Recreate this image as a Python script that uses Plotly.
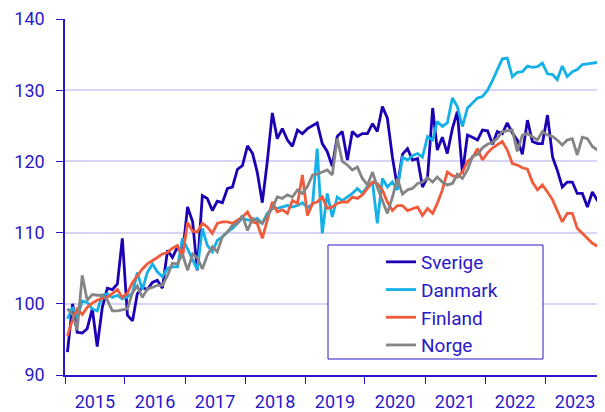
import pandas as pd
import plotly.graph_objects as go

# monthly index values, Jan 2015 - Dec 2023
months = pd.date_range("2015-01-01", periods=108, freq="MS") + pd.Timedelta(days=15)

sverige = [
    93.2, 100.0, 96.0, 95.9, 96.5, 99.3, 94.0, 99.5, 102.2, 102.0, 102.8, 109.2,
    98.4, 97.6, 101.4, 102.3, 102.0, 103.0, 103.3, 102.2, 107.5, 106.5, 108.0, 106.8,
    113.6, 111.5, 104.7, 115.2, 114.8, 113.1, 114.4, 114.2, 116.2, 116.4, 118.9, 119.4,
    122.2, 121.1, 118.5, 114.2, 119.9, 126.8, 123.2, 124.6, 123.0, 122.1, 124.4, 123.9,
    124.6, 125.0, 125.4, 122.5, 121.4, 119.3, 123.5, 124.2, 120.2, 124.2, 123.5, 123.9,
    123.9, 125.3, 124.2, 127.7, 126.1, 120.6, 116.4, 121.0, 121.8, 120.2, 120.4, 116.4,
    117.8, 127.5, 121.6, 123.4, 121.1, 124.6, 127.0, 118.3, 123.7, 123.4, 123.0, 124.4,
    124.3, 122.4, 124.2, 123.9, 125.4, 124.0, 123.0, 121.0, 125.8, 122.8, 122.5, 122.5,
    126.5, 120.6, 118.8, 116.4, 117.1, 117.1, 115.5, 115.5, 113.6, 115.7, 114.5, 114.8,
]
danmark = [
    97.9, 99.5, 98.0, 100.4, 100.2, 99.3, 99.0, 101.2, 101.4, 100.9, 101.2, 100.7,
    101.0, 101.5, 104.4, 102.0, 104.4, 105.6, 104.5, 103.8, 105.0, 105.2, 105.2, 109.2,
    107.7, 106.1, 104.8, 110.6, 108.2, 107.3, 108.9, 109.4, 110.1, 110.6, 111.3, 112.0,
    111.8, 111.7, 112.0, 111.3, 112.7, 113.4, 113.4, 113.6, 113.8, 113.6, 113.8, 114.2,
    113.5, 114.0, 121.8, 109.9, 115.5, 112.2, 115.0, 114.5, 115.0, 115.5, 116.2, 115.5,
    116.5, 117.0, 111.3, 117.6, 116.4, 117.1, 116.0, 120.6, 120.2, 120.8, 121.1, 120.6,
    123.5, 123.0, 125.6, 124.9, 125.4, 128.9, 127.7, 124.9, 127.5, 128.2, 128.9, 129.1,
    130.0, 131.4, 132.9, 134.4, 134.5, 131.9, 132.5, 132.6, 133.4, 133.2, 133.3, 133.8,
    132.3, 132.2, 131.5, 133.4, 131.9, 132.6, 132.9, 133.6, 133.7, 133.8, 133.9, 134.0,
]
finland = [
    95.5, 97.8, 99.3, 98.5, 99.5, 100.1, 100.5, 100.8, 100.9, 101.4, 102.0, 100.9,
    101.5, 103.0, 104.0, 104.9, 105.6, 106.0, 106.5, 107.0, 107.2, 107.8, 108.2, 106.6,
    111.4, 110.2, 110.1, 111.3, 110.8, 109.9, 111.3, 111.5, 111.5, 111.3, 111.7, 112.2,
    112.9, 111.5, 111.3, 109.2, 111.7, 114.3, 112.9, 113.2, 112.7, 114.5, 114.1, 118.1,
    112.4, 114.1, 114.3, 115.0, 113.4, 113.6, 114.1, 114.3, 114.3, 115.0, 114.8, 115.3,
    116.2, 117.1, 116.9, 116.0, 114.3, 113.1, 113.8, 113.8, 113.1, 113.4, 113.6, 112.4,
    113.4, 112.7, 114.1, 116.0, 118.5, 118.0, 117.8, 118.5, 120.0, 120.5, 121.8, 120.2,
    121.2, 121.9, 122.3, 122.8, 121.6, 119.7, 119.5, 119.1, 118.9, 117.1, 116.0, 116.7,
    115.7, 114.6, 113.1, 111.5, 112.7, 112.7, 110.6, 109.9, 109.2, 108.5, 108.1, 107.8,
]
norge = [
    99.3, 98.5, 96.3, 104.0, 100.5, 101.3, 101.2, 101.2, 100.5, 99.0, 99.0, 99.1,
    99.3, 101.6, 102.5, 100.9, 102.1, 102.3, 102.6, 102.6, 104.0, 105.7, 105.6, 107.0,
    104.7, 107.0, 106.5, 104.9, 106.8, 108.0, 107.3, 109.4, 110.1, 111.0, 111.3, 112.4,
    110.3, 112.0, 111.7, 111.3, 112.4, 113.4, 115.0, 114.8, 115.3, 115.0, 116.0, 115.5,
    116.5, 118.1, 118.2, 118.5, 118.8, 118.1, 123.2, 120.0, 119.5, 118.8, 119.2, 117.6,
    116.7, 118.5, 116.4, 114.5, 112.7, 115.0, 117.6, 115.4, 116.0, 116.2, 116.9, 117.1,
    117.7, 117.1, 117.8, 117.1, 116.7, 116.9, 118.2, 117.6, 118.8, 120.7, 121.0, 121.9,
    122.4, 122.7, 123.2, 124.2, 124.3, 124.4, 121.4, 123.7, 123.9, 123.5, 123.0, 124.2,
    123.7, 123.5, 123.0, 122.3, 123.0, 123.2, 120.9, 123.4, 123.2, 122.1, 121.6, 120.4,
]

series = [
    ("Sverige", sverige, "#1c00b4"),
    ("Danmark", danmark, "#14b0e8"),
    ("Finland", finland, "#f15a3a"),
    ("Norge", norge, "#858585"),
]

axis_col = "#2a18c8"
grid_col = "#d9d5f5"

# page body has an 8px margin, so the figure is sized to fit from (8, 8)
W, H = 597, 404
L, T, B = 57, 11, 37
pw, ph = W - L, H - T - B

fig = go.Figure()
for name, vals, col in series:
    fig.add_trace(go.Scatter(
        x=months, y=vals, mode="lines", name=name, legendgroup=name,
        line=dict(color=col, width=2.8),
    ))

# white legend box (pixel positions relative to the plot area)
fig.add_shape(
    type="rect", xref="paper", yref="paper",
    x0=263 / pw, x1=478 / pw,
    y0=(356 - 340) / ph, y1=(356 - 226) / ph,
    line=dict(color=axis_col, width=1), fillcolor="white", layer="above",
)

fig.update_layout(
    width=W, height=H,
    margin=dict(l=L, r=0, t=T, b=B, autoexpand=False),
    paper_bgcolor="white", plot_bgcolor="white",
    font=dict(family="Roboto", size=18, color=axis_col),
    showlegend=True,
    legend=dict(
        x=316 / pw, y=(356 - 224) / ph, xanchor="left", yanchor="top",
        bgcolor="rgba(0,0,0,0)", borderwidth=0,
        font=dict(size=19, color=axis_col),
        tracegroupgap=0,
    ),
    xaxis=dict(
        type="date",
        range=["2015-01-01", "2024-01-01"],
        tick0="2015-01-01", dtick="M12", tickformat="%Y",
        ticklabelmode="period",
        ticks="outside", ticklen=7, tickcolor=axis_col,
        showline=True, linecolor=axis_col, linewidth=1.5,
        showgrid=False, zeroline=False,
        ticklabelstandoff=3, automargin=False,
    ),
    yaxis=dict(
        range=[90, 140], dtick=10,
        ticks="outside", ticklen=7, tickcolor=axis_col,
        showline=True, linecolor=axis_col, linewidth=1.5,
        showgrid=True, gridcolor=grid_col, gridwidth=1.5,
        zeroline=False, automargin=False,
        ticklabelstandoff=8,
    ),
)

fig.write_html("out.html")
